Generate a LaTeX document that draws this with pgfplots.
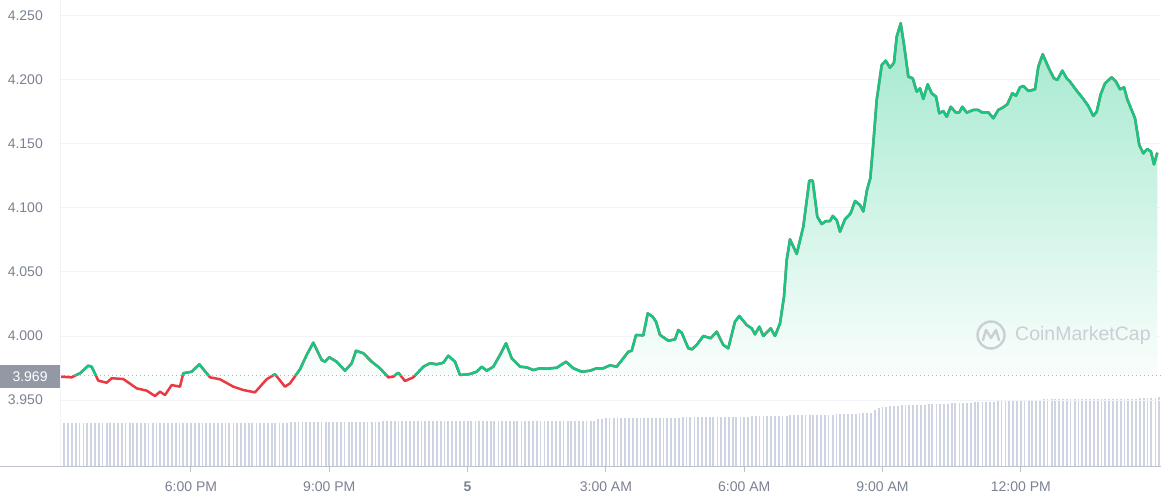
\documentclass[border=0pt]{standalone}
\usepackage{fontspec}
\setmainfont{Liberation Sans}
\usepackage{pgfplots}
\pgfplotsset{compat=1.18}
\usepackage{pgfplotstable}
\definecolor{cmcgreen}{RGB}{22,199,132}
\definecolor{cmcred}{RGB}{234,57,67}
\definecolor{ticklab}{RGB}{122,129,144}
\definecolor{gridc}{RGB}{241,243,246}
\definecolor{volc}{RGB}{207,212,226}
\definecolor{basebox}{RGB}{146,152,164}
\definecolor{axisc}{RGB}{190,195,205}
\definecolor{dotc}{RGB}{175,180,190}
\definecolor{wm}{RGB}{203,206,213}

\pgfplotstableread{
h p
15.158 3.9682
15.412 3.9677
15.592 3.9709
15.772 3.9768
15.846 3.9760
15.989 3.9651
16.171 3.9635
16.280 3.9670
16.531 3.9664
16.822 3.9591
17.039 3.9573
17.219 3.9531
17.328 3.9565
17.436 3.9539
17.581 3.9617
17.761 3.9604
17.833 3.9709
18.015 3.9721
18.180 3.9779
18.412 3.9677
18.629 3.9662
18.918 3.9604
19.135 3.9578
19.388 3.9560
19.642 3.9662
19.822 3.9701
20.039 3.9604
20.148 3.9630
20.364 3.9740
20.510 3.9852
20.653 3.9948
20.835 3.9813
20.907 3.9799
21.000 3.9834
21.161 3.9799
21.341 3.9729
21.486 3.9787
21.579 3.9885
21.738 3.9865
21.920 3.9799
22.100 3.9748
22.280 3.9677
22.388 3.9682
22.497 3.9713
22.642 3.9648
22.822 3.9677
23.039 3.9760
23.184 3.9787
23.330 3.9779
23.473 3.9791
23.581 3.9846
23.727 3.9799
23.835 3.9695
24.052 3.9703
24.197 3.9721
24.306 3.9760
24.414 3.9729
24.558 3.9760
24.703 3.9852
24.833 3.9943
24.957 3.9826
25.137 3.9760
25.282 3.9755
25.425 3.9734
25.571 3.9748
25.716 3.9745
25.933 3.9752
26.135 3.9799
26.293 3.9748
26.475 3.9721
26.655 3.9729
26.801 3.9748
26.944 3.9748
27.089 3.9771
27.234 3.9760
27.378 3.9826
27.486 3.9877
27.560 3.9885
27.653 4.0008
27.811 4.0005
27.907 4.0177
28.015 4.0151
28.087 4.0112
28.174 4.0008
28.354 3.9963
28.499 3.9974
28.571 4.0047
28.644 4.0026
28.788 3.9904
28.861 3.9896
28.970 3.9930
29.113 4.0000
29.273 3.9982
29.403 4.0034
29.547 3.9930
29.655 3.9904
29.800 4.0112
29.894 4.0156
30.054 4.0086
30.163 4.0060
30.234 4.0013
30.328 4.0073
30.414 4.0000
30.575 4.0060
30.668 4.0000
30.777 4.0099
30.863 4.0307
30.922 4.0594
30.994 4.0755
31.139 4.0641
31.282 4.0854
31.412 4.1213
31.486 4.1213
31.586 4.0932
31.681 4.0875
31.774 4.0898
31.861 4.0898
31.920 4.0938
32.007 4.0906
32.078 4.0815
32.187 4.0912
32.310 4.0959
32.404 4.1055
32.512 4.1023
32.584 4.0973
32.664 4.1141
32.735 4.1232
32.801 4.1505
32.874 4.1844
32.983 4.2117
33.069 4.2151
33.163 4.2096
33.249 4.2135
33.308 4.2338
33.395 4.2443
33.473 4.2260
33.560 4.2026
33.655 4.2013
33.742 4.1909
33.813 4.1935
33.885 4.1852
33.980 4.1966
34.067 4.1896
34.161 4.1870
34.232 4.1740
34.319 4.1758
34.393 4.1713
34.480 4.1791
34.594 4.1745
34.666 4.1748
34.731 4.1791
34.826 4.1745
34.970 4.1766
35.078 4.1766
35.152 4.1748
35.295 4.1748
35.404 4.1701
35.512 4.1766
35.620 4.1787
35.707 4.1810
35.816 4.1896
35.896 4.1877
35.983 4.1943
36.054 4.1953
36.163 4.1914
36.308 4.1927
36.380 4.2104
36.475 4.2201
36.618 4.2084
36.720 4.2013
36.792 4.2000
36.900 4.2073
36.996 4.2013
37.067 4.1987
37.213 4.1916
37.356 4.1852
37.464 4.1797
37.573 4.1719
37.646 4.1752
37.733 4.1888
37.827 4.1974
37.972 4.2021
38.065 4.1987
38.152 4.1927
38.239 4.1943
38.310 4.1849
38.477 4.1701
38.570 4.1492
38.657 4.1427
38.744 4.1461
38.824 4.1440
38.889 4.1341
38.961 4.1432
}\price

\begin{document}
\begin{tikzpicture}
\path[use as bounding box] (0,0) rectangle (1161pt,500pt);

% volume bars
\begin{axis}[
  at={(60pt,33pt)}, anchor=south west, scale only axis,
  width=1101pt, height=467pt,
  xmin=15.1584, xmax=39.0412, ymin=0, ymax=467,
  hide axis]
\addplot[ycomb, volc, line width=1.8pt, mark=none] coordinates {
(15.25,44)(15.33,44)(15.42,44)(15.50,44)(15.58,44)(15.67,44)(15.75,44)(15.83,44)(15.92,44)
(16.00,44)(16.08,44)(16.17,44)(16.25,44)(16.33,44)(16.42,44)(16.50,44)(16.58,44)(16.67,44)(16.75,44)(16.83,44)(16.92,44)
(17.00,44)(17.08,44)(17.17,44)(17.25,44)(17.33,44)(17.42,44)(17.50,44)(17.58,44)(17.67,44)(17.75,44)(17.83,44)(17.92,44)
(18.00,44)(18.08,44)(18.17,44)(18.25,44)(18.33,44)(18.42,44)(18.50,44)(18.58,44)(18.67,44)(18.75,44)(18.83,44)(18.92,44)
(19.00,44)(19.08,44)(19.17,44)(19.25,44)(19.33,44)(19.42,44)(19.50,44)(19.58,44)(19.67,44)(19.75,44)(19.83,44)(19.92,44)
(20.00,44)(20.08,44)(20.17,45)(20.25,45)(20.33,45)(20.42,45)(20.50,45)(20.58,45)(20.67,45)(20.75,45)(20.83,45)(20.92,45)
(21.00,45)(21.08,45)(21.17,45)(21.25,45)(21.33,45)(21.42,45)(21.50,45)(21.58,45)(21.67,45)(21.75,45)(21.83,45)(21.92,45)
(22.00,45)(22.08,45)(22.17,46)(22.25,46)(22.33,46)(22.42,46)(22.50,46)(22.58,46)(22.67,46)(22.75,46)(22.83,46)(22.92,46)
(23.00,46)(23.08,46)(23.17,46)(23.25,46)(23.33,46)(23.42,46)(23.50,46)(23.58,46)(23.67,46)(23.75,46)(23.83,46)(23.92,46)
(24.00,46)(24.08,46)(24.17,46)(24.25,46)(24.33,46)(24.42,46)(24.50,46)(24.58,46)(24.67,46)(24.75,46)(24.83,46)(24.92,46)
(25.00,46)(25.08,46)(25.17,46)(25.25,46)(25.33,46)(25.42,46)(25.50,46)(25.58,46)(25.67,46)(25.75,46)(25.83,46)(25.92,46)
(26.00,46)(26.08,46)(26.17,46)(26.25,46)(26.33,46)(26.42,46)(26.50,46)(26.58,46)(26.67,46)(26.75,46)(26.83,48)(26.92,48)
(27.00,48.5)(27.08,48.5)(27.17,48.5)(27.25,48.5)(27.33,48.5)(27.42,48.5)(27.50,48.5)(27.58,48.5)(27.67,48.5)(27.75,48.5)(27.83,48.5)(27.92,48.5)
(28.00,48.5)(28.08,48.5)(28.17,48.5)(28.25,48.5)(28.33,48.5)(28.42,48.5)(28.50,48.5)(28.58,48.5)(28.67,49.5)(28.75,49.5)(28.83,49.5)(28.92,49.5)
(29.00,49.5)(29.08,49.5)(29.17,49.5)(29.25,49.5)(29.33,49.5)(29.42,49.5)(29.50,49.5)(29.58,49.5)(29.67,49.5)(29.75,49.5)(29.83,49.5)(29.92,49.5)
(30.00,49.5)(30.08,49.5)(30.17,51)(30.25,51)(30.33,51)(30.42,51)(30.50,51)(30.58,51)(30.67,51)(30.75,51)(30.83,51)(30.92,51)
(31.00,52)(31.08,52)(31.17,52)(31.25,52)(31.33,52)(31.42,52)(31.50,52)(31.58,52)(31.67,52)(31.75,52)(31.83,52)(31.92,52)
(32.00,53)(32.08,53)(32.17,53)(32.25,53)(32.33,53)(32.42,53)(32.50,54)(32.58,54)(32.67,54)(32.75,54)(32.83,57)(32.92,59)
(33.00,60)(33.08,60)(33.17,61)(33.25,61)(33.33,61)(33.42,62)(33.50,62)(33.58,62)(33.67,62)(33.75,62)(33.83,62)(33.92,62)
(34.00,63)(34.08,63)(34.17,63)(34.25,63)(34.33,63)(34.42,63)(34.50,64)(34.58,64)(34.67,64)(34.75,64)(34.83,64)(34.92,64)
(35.00,65)(35.08,65)(35.17,65)(35.25,65)(35.33,65)(35.42,65)(35.50,66)(35.58,66)(35.67,66)(35.75,66)(35.83,66)(35.92,66)
(36.00,66.5)(36.08,66.5)(36.17,66.5)(36.25,66.5)(36.33,66.5)(36.42,66.5)(36.50,67.5)(36.58,67.5)(36.67,67.5)(36.75,67.5)(36.83,67.5)(36.92,67.5)
(37.00,67.5)(37.08,67.5)(37.17,67.5)(37.25,67.5)(37.33,67.5)(37.42,67.5)(37.50,67.5)(37.58,67.5)(37.67,67.5)(37.75,67.5)(37.83,67.5)(37.92,67.5)
(38.00,67.5)(38.08,67.5)(38.17,67.5)(38.25,67.5)(38.33,67.5)(38.42,67.5)(38.50,67.5)(38.58,69)(38.67,69)(38.75,69)(38.83,69)(38.92,69)
(39.00,69.5)
};
\end{axis}

% price
\begin{axis}[
  at={(60pt,33pt)}, anchor=south west, scale only axis,
  width=1101pt, height=467pt,
  xmin=15.1584, xmax=39.0412, ymin=3.89766, ymax=4.2625,
  axis line style={draw=none},
  ytick={3.95,4,4.05,4.1,4.15,4.2,4.25},
  yticklabels={3.950,4.000,4.050,4.100,4.150,4.200,4.250},
  ytick style={draw=none},
  xtick={18,21,24,27,30,33,36},
  xticklabels={6:00 PM,9:00 PM,\textbf{5},3:00 AM,6:00 AM,9:00 AM,12:00 PM},
  xtick pos=bottom,
  tick align=outside, major tick length=5pt,
  xtick style={draw=axisc, line width=1pt},
  ymajorgrids, grid style={draw=gridc, line width=1pt},
  tick label style={font=\fontsize{14}{16}\selectfont, text=ticklab},
  yticklabel style={inner sep=0pt, xshift=-12pt},
  xticklabel style={anchor=base, inner sep=0pt, yshift=-19pt},
]
\addplot[draw=none, top color=cmcgreen!40!white, bottom color=white] table[x=h, y=p] {\price} -- (axis cs:38.961,3.969) -- (axis cs:15.158,3.969) -- cycle;
\draw[dotc, line width=1pt, dash pattern=on 1.2pt off 2.8pt] (axis cs:15.1584,3.969) -- (axis cs:39.0412,3.969);
\addplot[cmcred, line width=2.5pt, line join=round, mark=none] table[x=h, y=p] {\price};
\begin{scope}
\clip (axis cs:15,3.969) rectangle (axis cs:40,4.3);
\addplot[cmcgreen, line width=2.5pt, line join=round, mark=none] table[x=h, y=p] {\price};
\end{scope}
\end{axis}

% frame lines and baseline label
\draw[gridc, line width=1pt] (60pt,33pt) -- (60pt,500pt);
\draw[axisc, line width=1pt] (0pt,33pt) -- (1161pt,33pt);
\node[fill=basebox, text=white, minimum width=59.5pt, minimum height=23pt, inner sep=0pt, anchor=east, font=\fontsize{14}{16}\selectfont] at (60pt,123.5pt) {3.969};

% watermark
\node[text=wm, font=\fontsize{19.5}{22}\selectfont, anchor=west, inner sep=0pt] at (1015pt,165pt) {CoinMarketCap};
\draw[wm, line width=2.4pt] (991pt,165pt) circle (13.5pt);
\draw[wm, line width=2.4pt, line join=round, line cap=round] (983pt,160pt) -- (986pt,170pt) -- (991pt,162pt) -- (996pt,170pt) -- (999pt,160pt);
\end{tikzpicture}
\end{document}
